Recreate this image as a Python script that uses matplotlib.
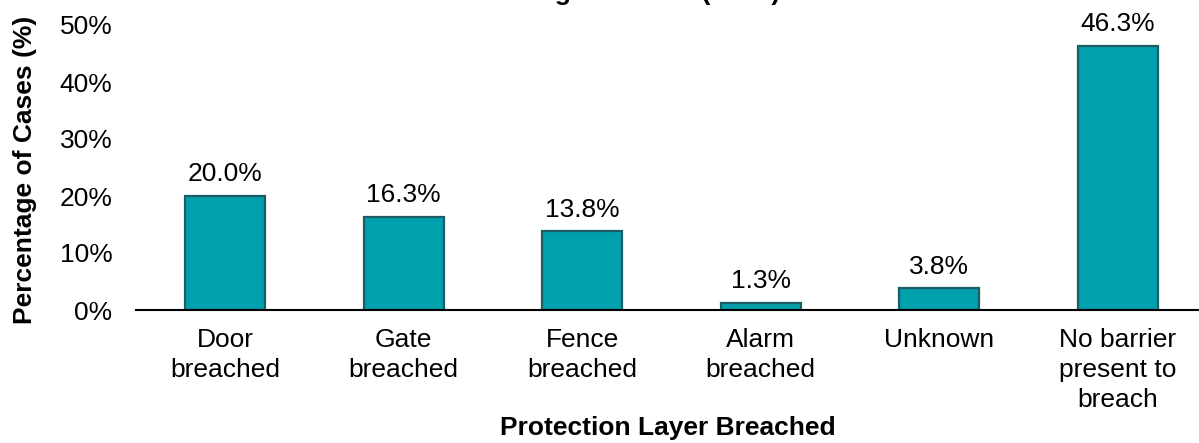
import matplotlib.pyplot as plt

plt.rcParams['font.family'] = ['Liberation Sans', 'DejaVu Sans']

# data
categories = ["Door\nbreached", "Gate\nbreached", "Fence\nbreached",
              "Alarm\nbreached", "Unknown", "No barrier\npresent to\nbreach"]
percentages = [20.0, 16.3, 13.8, 1.3, 3.8, 46.3]
ytick_values = [0, 10, 20, 30, 40, 50]

fig = plt.figure(figsize=(11.99, 4.43), dpi=100)
# axes: left 136px, right ~1207px (runs past the edge), 0% at y=310, 50% at y=25
ax = fig.add_axes([136 / 1199, (443 - 310) / 443, (1207 - 136) / 1199, (310 - 25) / 443])

x = range(len(categories))
bars = ax.bar(x, percentages, width=0.45, color='#00A0AD', edgecolor='#1E5C63', linewidth=1.6)

for b, v in zip(bars, percentages):
    ax.annotate(f"{v:.1f}%", (b.get_x() + b.get_width() / 2, v),
                xytext=(0, 7), textcoords='offset points',
                ha='center', va='bottom', fontsize=19)

ax.set_xlim(-0.5, len(categories) - 0.5)
ax.set_ylim(0, 50)
ax.set_yticks(ytick_values)
ax.set_yticklabels([f"{t}%" for t in ytick_values], fontsize=19)
ax.set_xticks(list(x))
ax.set_xticklabels(categories, fontsize=19, linespacing=1.32)
ax.tick_params(axis='both', length=0)
ax.tick_params(axis='x', pad=13)
ax.tick_params(axis='y', pad=17)

for s in ['top', 'right', 'left']:
    ax.spines[s].set_visible(False)
ax.spines['bottom'].set_linewidth(1.5)

ax.set_xlabel("Protection Layer Breached", fontsize=19, fontweight='bold')
ax.xaxis.set_label_coords((668 - 136) / (1207 - 136), -(416 - 310) / (310 - 25))
ax.set_ylabel("Percentage of Cases (%)", fontsize=19, fontweight='bold')
ax.yaxis.set_label_coords(-(136 - 37) / (1207 - 136), 0.49)

# title sits mostly above the visible area, as in the source image
fig.text(611 / 1199, 1.0, "Breaching Incidents (n=80)", ha='center', va='baseline',
         fontsize=19, fontweight='bold')

fig.savefig("out.png", dpi=100)
